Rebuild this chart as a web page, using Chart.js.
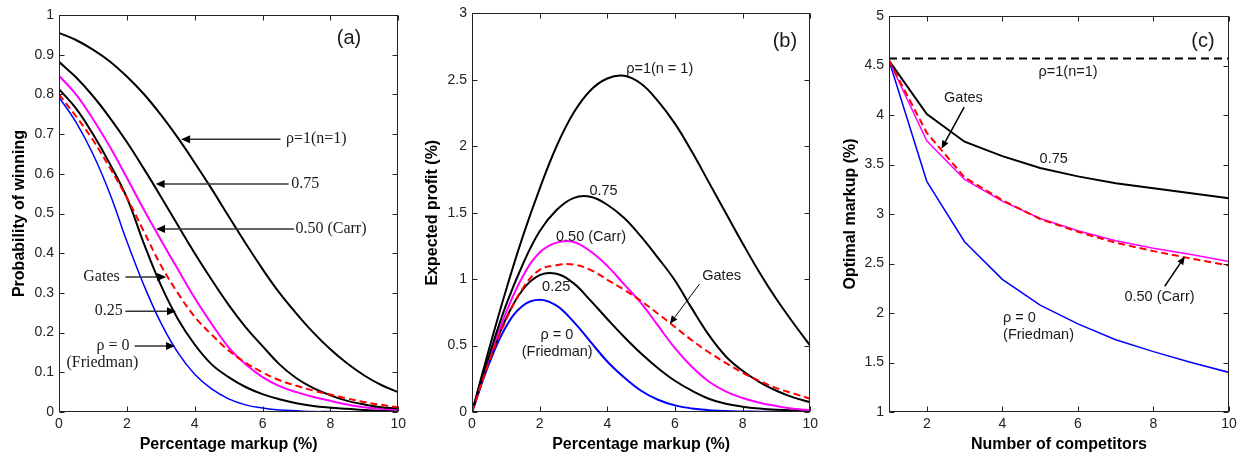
<!DOCTYPE html>
<html>
<head>
<meta charset="utf-8">
<script src="https://cdn.jsdelivr.net/npm/chart.js@4.4.1/dist/chart.umd.min.js"></script>
<style>
  html, body { margin: 0; padding: 0; background: #fff; }
  .wrap { position: relative; width: 1242px; height: 456px; }
  .panel { position: absolute; top: 0; height: 456px; }
</style>
</head>
<body>
<div class="wrap">
  <div class="panel" style="left:0;width:410px"><canvas id="chartA"></canvas></div>
  <div class="panel" style="left:410px;width:412px"><canvas id="chartB"></canvas></div>
  <div class="panel" style="left:822px;width:420px"><canvas id="chartC"></canvas></div>
</div>
<script>
// x values for panels (a) and (b)
const markup = [0, 0.5, 1, 1.5, 2, 2.5, 3, 3.5, 4, 4.5, 5, 5.5, 6, 6.5, 7, 7.5, 8, 8.5, 9, 9.5, 10];

// (a) probability of winning
const winRho1 = [0.955, 0.937, 0.913, 0.883, 0.845, 0.801, 0.749, 0.691, 0.628, 0.562, 0.493, 0.425, 0.36, 0.3, 0.248, 0.2, 0.158, 0.122, 0.092, 0.068, 0.05];
const win075 = [0.882, 0.843, 0.796, 0.741, 0.68, 0.613, 0.543, 0.471, 0.40, 0.333, 0.27, 0.214, 0.166, 0.12, 0.085, 0.06, 0.042, 0.028, 0.019, 0.012, 0.009];
const win050 = [0.847, 0.80, 0.738, 0.668, 0.59, 0.51, 0.434, 0.36, 0.287, 0.222, 0.163, 0.12, 0.088, 0.065, 0.05, 0.038, 0.028, 0.019, 0.012, 0.008, 0.005];
const winGates = [0.80, 0.745, 0.685, 0.615, 0.54, 0.455, 0.37, 0.30, 0.24, 0.195, 0.155, 0.124, 0.10, 0.08, 0.066, 0.054, 0.044, 0.034, 0.025, 0.018, 0.012];
const win025 = [0.813, 0.765, 0.70, 0.625, 0.54, 0.425, 0.32, 0.235, 0.17, 0.12, 0.088, 0.063, 0.045, 0.032, 0.022, 0.015, 0.011, 0.008, 0.005, 0.003, 0.002];
const win0 = [0.793, 0.73, 0.65, 0.55, 0.43, 0.32, 0.225, 0.15, 0.095, 0.058, 0.033, 0.018, 0.01, 0.005, 0.003, 0.001, 0.001, 0, 0, 0, 0];

// (b) expected profit
const profitRho1 = [0, 0.47, 0.913, 1.32, 1.68, 2.0, 2.25, 2.42, 2.51, 2.53, 2.47, 2.34, 2.17, 1.96, 1.73, 1.5, 1.27, 1.05, 0.85, 0.67, 0.5];
const profit075 = [0, 0.42, 0.80, 1.11, 1.36, 1.52, 1.61, 1.62, 1.56, 1.46, 1.32, 1.16, 0.99, 0.78, 0.58, 0.42, 0.31, 0.225, 0.16, 0.11, 0.075];
const profit050 = [0, 0.40, 0.745, 1.02, 1.2, 1.275, 1.28, 1.21, 1.1, 0.96, 0.82, 0.65, 0.48, 0.34, 0.23, 0.155, 0.105, 0.07, 0.045, 0.025, 0.013];
const profitGates = [0, 0.375, 0.69, 0.93, 1.07, 1.105, 1.11, 1.07, 0.995, 0.92, 0.835, 0.74, 0.64, 0.54, 0.45, 0.37, 0.295, 0.235, 0.18, 0.14, 0.10];
const profit025 = [0, 0.38, 0.70, 0.92, 1.03, 1.04, 0.97, 0.84, 0.70, 0.565, 0.44, 0.33, 0.235, 0.16, 0.10, 0.062, 0.04, 0.026, 0.017, 0.012, 0.01];
const profit0 = [0, 0.36, 0.64, 0.80, 0.845, 0.80, 0.68, 0.53, 0.38, 0.26, 0.16, 0.092, 0.05, 0.027, 0.014, 0.007, 0.004, 0.002, 0.001, 0, 0];

// (c) optimal markup vs number of competitors
const competitors = [1, 2, 3, 4, 5, 6, 7, 8, 9, 10];
const optRho1 = [4.57, 4.57, 4.57, 4.57, 4.57, 4.57, 4.57, 4.57, 4.57, 4.57];
const opt075 = [4.55, 4.01, 3.73, 3.585, 3.465, 3.38, 3.31, 3.26, 3.21, 3.16];
const opt050 = [4.55, 3.74, 3.35, 3.13, 2.955, 2.83, 2.73, 2.655, 2.59, 2.52];
const optGates = [4.55, 3.82, 3.37, 3.14, 2.95, 2.82, 2.71, 2.625, 2.55, 2.48];
const opt0 = [4.55, 3.33, 2.72, 2.34, 2.08, 1.89, 1.73, 1.61, 1.5, 1.4];
const compTicks = [2, 4, 6, 8, 10];

const SANS = "'Liberation Sans', Arial, sans-serif";
const SERIF = "'Liberation Serif', 'Times New Roman', serif";

const series = (xs, ys) => xs.map((x, i) => ({ x: x, y: ys[i] }));

function line(data, color, width, dash, smooth) {
    return {
        data: data,
        borderColor: color,
        borderWidth: width,
        borderDash: dash || [],
        pointRadius: 0,
        fill: false,
        tension: smooth ? 0.4 : 0
    };
}

function drawArrow(ctx, x0, y0, x1, y1, color, width, head, half) {
    const ang = Math.atan2(y1 - y0, x1 - x0);
    const bx = x1 - head * Math.cos(ang);
    const by = y1 - head * Math.sin(ang);
    ctx.strokeStyle = color;
    ctx.lineWidth = width;
    ctx.beginPath();
    ctx.moveTo(x0, y0);
    ctx.lineTo(bx, by);
    ctx.stroke();
    ctx.fillStyle = '#000';
    ctx.beginPath();
    ctx.moveTo(x1, y1);
    ctx.lineTo(bx + half * Math.sin(ang), by - half * Math.cos(ang));
    ctx.lineTo(bx - half * Math.sin(ang), by + half * Math.cos(ang));
    ctx.closePath();
    ctx.fill();
}

// box, inner tick marks, arrows and labels
const framePlugin = {
    id: 'frame',
    afterDatasetsDraw(chart, args, opts) {
        const { ctx, chartArea: a, scales } = chart;
        const sx = scales.x, sy = scales.y;
        ctx.save();
        const L = Math.round(a.left) + 0.5, R = Math.round(a.right) - 0.5;
        const T = Math.round(a.top) + 0.5, B = Math.round(a.bottom) - 0.5;
        ctx.strokeStyle = '#222';
        ctx.lineWidth = 1;
        ctx.strokeRect(L, T, R - L, B - T);
        ctx.beginPath();
        sx.ticks.forEach(t => {
            const px = Math.round(sx.getPixelForValue(t.value)) + 0.5;
            ctx.moveTo(px, B); ctx.lineTo(px, B - 5);
            ctx.moveTo(px, T); ctx.lineTo(px, T + 5);
        });
        sy.ticks.forEach(t => {
            const py = Math.round(sy.getPixelForValue(t.value)) + 0.5;
            ctx.moveTo(L, py); ctx.lineTo(L + 5, py);
            ctx.moveTo(R, py); ctx.lineTo(R - 5, py);
        });
        ctx.stroke();

        (opts.arrows || []).forEach(ar => {
            drawArrow(ctx,
                sx.getPixelForValue(ar.from[0]), sy.getPixelForValue(ar.from[1]),
                sx.getPixelForValue(ar.to[0]), sy.getPixelForValue(ar.to[1]),
                opts.arrowColor || '#000', opts.arrowWidth || 1, opts.head || 8, opts.half || 3.5);
        });

        ctx.fillStyle = '#1a1a1a';
        ctx.textBaseline = 'middle';
        (opts.notes || []).forEach(n => {
            ctx.font = n.font || opts.font;
            ctx.textAlign = n.align || 'center';
            ctx.fillText(n.text, sx.getPixelForValue(n.x), sy.getPixelForValue(n.y));
        });
        ctx.restore();
    }
};

function axisTitle(text, pad) {
    return { display: true, text: text, color: '#000', font: { family: SANS, size: 16, weight: 'bold' }, padding: pad };
}

const tickFont = { family: SANS, size: 14 };
const plainNumber = v => String(Number(v.toFixed(2)));

function makeChart(id, datasets, o) {
    return new Chart(document.getElementById(id), {
        type: 'line',
        data: { datasets: datasets },
        plugins: [framePlugin],
        options: {
            responsive: true,
            maintainAspectRatio: false,
            animation: false,
            events: [],
            layout: { padding: { top: o.top, right: o.right, left: 0, bottom: 0 } },
            plugins: {
                legend: { display: false },
                tooltip: { enabled: false },
                frame: o.frame
            },
            scales: {
                x: {
                    type: 'linear',
                    min: o.xMin, max: o.xMax,
                    grid: { display: false, drawTicks: false },
                    border: { display: false },
                    ticks: { stepSize: 2, color: '#222', font: tickFont, padding: 4, maxRotation: 0, callback: plainNumber },
                    afterBuildTicks: o.xTicks ? (s => { s.ticks = o.xTicks.map(v => ({ value: v })); }) : undefined,
                    afterFit: s => { s.height = 44; },
                    title: axisTitle(o.xTitle, { top: 0, bottom: 2 })
                },
                y: {
                    type: 'linear',
                    min: o.yMin, max: o.yMax,
                    grid: { display: false, drawTicks: false },
                    border: { display: false },
                    ticks: { stepSize: o.yStep, color: '#222', font: tickFont, padding: 5, callback: plainNumber },
                    afterFit: s => { s.width = o.yWidth; },
                    title: axisTitle(o.yTitle, { top: o.yTitlePad, bottom: 0 })
                }
            }
        }
    });
}

const serif16 = '16px ' + SERIF;
const sans14 = '14.5px ' + SANS;
const panelFont = '20px ' + SANS;

makeChart('chartA', [
    line(series(markup, winGates), '#ff0000', 2, [7, 4], true),
    line(series(markup, winRho1), '#000', 2, null, true),
    line(series(markup, win075), '#000', 2, null, true),
    line(series(markup, win050), '#ff00ff', 2, null, true),
    line(series(markup, win025), '#000', 2, null, true),
    line(series(markup, win0), '#0000ff', 1.5, null, true)
], {
    top: 15, right: 10, yWidth: 59, yTitlePad: 10,
    xMin: 0, xMax: 10, yMin: 0, yMax: 1, yStep: 0.1,
    xTitle: 'Percentage markup (%)', yTitle: 'Probability of winning',
    frame: {
        font: serif16, arrowColor: '#333', arrowWidth: 1.5, head: 9, half: 4,
        arrows: [
            { from: [6.53, 0.687], to: [3.6, 0.687] },
            { from: [6.77, 0.574], to: [2.85, 0.574] },
            { from: [6.93, 0.461], to: [2.86, 0.461] },
            { from: [1.96, 0.34], to: [3.16, 0.34] },
            { from: [1.96, 0.254], to: [3.45, 0.254] },
            { from: [2.23, 0.166], to: [3.42, 0.166] }
        ],
        notes: [
            { text: 'ρ=1(n=1)', x: 6.69, y: 0.687, align: 'left' },
            { text: '0.75', x: 6.85, y: 0.574, align: 'left' },
            { text: '0.50 (Carr)', x: 6.97, y: 0.461, align: 'left' },
            { text: 'Gates', x: 1.79, y: 0.34, align: 'right' },
            { text: '0.25', x: 1.88, y: 0.254, align: 'right' },
            { text: 'ρ = 0', x: 2.08, y: 0.166, align: 'right' },
            { text: '(Friedman)', x: 1.28, y: 0.124 },
            { text: '(a)', x: 8.55, y: 0.94, font: panelFont }
        ]
    }
});

makeChart('chartB', [
    line(series(markup, profitGates), '#ff0000', 2, [7, 4], true),
    line(series(markup, profitRho1), '#000', 2, null, true),
    line(series(markup, profit075), '#000', 2, null, true),
    line(series(markup, profit050), '#ff00ff', 2, null, true),
    line(series(markup, profit025), '#000', 2, null, true),
    line(series(markup, profit0), '#0000ff', 2, null, true)
], {
    top: 12, right: 8, yWidth: 62, yTitlePad: 13,
    xMin: 0, xMax: 10, yMin: 0, yMax: 3, yStep: 0.5,
    xTitle: 'Percentage markup (%)', yTitle: 'Expected profit (%)',
    frame: {
        font: sans14, arrowColor: '#000', arrowWidth: 1, head: 8, half: 3.5,
        arrows: [
            { from: [6.73, 0.964], to: [5.85, 0.664] }
        ],
        notes: [
            { text: 'ρ=1(n = 1)', x: 5.55, y: 2.58 },
            { text: '0.75', x: 3.89, y: 1.665 },
            { text: '0.50 (Carr)', x: 3.52, y: 1.32 },
            { text: 'Gates', x: 7.38, y: 1.026 },
            { text: '0.25', x: 2.49, y: 0.94 },
            { text: 'ρ = 0', x: 2.51, y: 0.576 },
            { text: '(Friedman)', x: 2.52, y: 0.45 },
            { text: '(b)', x: 9.25, y: 2.79, font: panelFont }
        ]
    }
});

makeChart('chartC', [
    line(series(competitors, optGates), '#ff0000', 2, [7, 4], false),
    line(series(competitors, optRho1), '#000', 2, [8, 5], false),
    line(series(competitors, opt075), '#000', 2, null, false),
    line(series(competitors, opt050), '#ff00ff', 1.5, null, false),
    line(series(competitors, opt0), '#0000ff', 1.5, null, false)
], {
    top: 16, right: 13, yWidth: 67, yTitlePad: 19,
    xMin: 1, xMax: 10, yMin: 1, yMax: 5, yStep: 0.5, xTicks: compTicks,
    xTitle: 'Number of competitors', yTitle: 'Optimal markup (%)',
    frame: {
        font: sans14, arrowColor: '#000', arrowWidth: 1.5, head: 8, half: 3.5,
        arrows: [
            { from: [2.99, 4.08], to: [2.39, 3.66] },
            { from: [8.3, 2.27], to: [8.83, 2.57] }
        ],
        notes: [
            { text: 'ρ=1(n=1)', x: 5.74, y: 4.435 },
            { text: 'Gates', x: 2.97, y: 4.17 },
            { text: '0.75', x: 5.36, y: 3.56 },
            { text: '0.50 (Carr)', x: 8.16, y: 2.166 },
            { text: 'ρ = 0', x: 4.02, y: 1.95, align: 'left' },
            { text: '(Friedman)', x: 4.02, y: 1.78, align: 'left' },
            { text: '(c)', x: 9.31, y: 4.74, font: panelFont }
        ]
    }
});
</script>
</body>
</html>
